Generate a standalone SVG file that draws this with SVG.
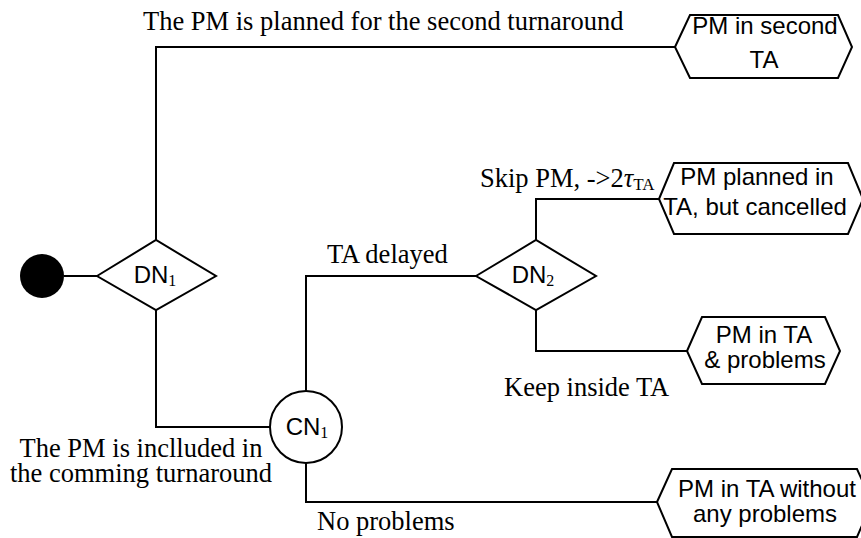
<svg xmlns="http://www.w3.org/2000/svg" width="861" height="538" viewBox="0 0 861 538">
<style>
.shape{fill:#fff;stroke:#000;stroke-width:2}
.conn{fill:none;stroke:#000;stroke-width:2}
.lbl{font-family:"Liberation Serif","Times New Roman",serif;font-size:26.5px;fill:#000}
.nt{font-family:"Liberation Sans",Arial,sans-serif;font-size:24px;fill:#000;text-anchor:middle}
.sub{font-family:"Liberation Serif","Times New Roman",serif;font-size:16px}
</style>
<rect width="861" height="538" fill="#fff"/>
<g id="connectors">
<path class="conn" d="M64,276 H97"/>
<path class="conn" d="M156,240 V47 H675"/>
<path class="conn" d="M156,310 V427 H270"/>
<path class="conn" d="M306,391 V276 H476"/>
<path class="conn" d="M536,240 V199 H659"/>
<path class="conn" d="M536,310 V351 H687"/>
<path class="conn" d="M306,463 V502 H657"/>
</g>
<g id="labels">
<text class="lbl" x="143" y="30">The PM is planned for the second turnaround</text>
<text class="lbl" x="327" y="263">TA delayed</text>
<text class="lbl" x="480" y="187">Skip PM, -&gt;2<tspan font-style="italic">τ</tspan><tspan font-size="17" dy="3">TA</tspan></text>
<text class="lbl" x="504" y="396">Keep inside TA</text>
<text class="lbl" x="141" y="457" text-anchor="middle">The PM is inclluded in</text>
<text class="lbl" x="141" y="482" text-anchor="middle">the comming turnaround</text>
<text class="lbl" x="317" y="530">No problems</text>
</g>
<g id="start"><circle cx="42" cy="276" r="22" fill="#000"/></g>
<g id="DN1">
<polygon class="shape" points="97,276 156,240 216,276 156,310"/>
<text class="nt" x="155" y="283">DN<tspan class="sub" dy="3">1</tspan></text>
</g>
<g id="CN1">
<circle class="shape" cx="306" cy="427" r="36"/>
<text class="nt" x="307" y="435">CN<tspan class="sub" dy="3">1</tspan></text>
</g>
<g id="DN2">
<polygon class="shape" points="476,276 536,240 596,276 536,310"/>
<text class="nt" x="533" y="283">DN<tspan class="sub" dy="3">2</tspan></text>
</g>
<g id="T1">
<polygon class="shape" points="675,47 690,15 838,15 852,47 838,78 690,78"/>
<text class="nt" x="765" y="34">PM in second</text>
<text class="nt" x="764" y="68">TA</text>
</g>
<g id="T2">
<polygon class="shape" points="659,199 674,163 848,163 863,199 848,234 674,234"/>
<text class="nt" x="757" y="185">PM planned in</text>
<text class="nt" x="755" y="215">TA, but cancelled</text>
</g>
<g id="T3">
<polygon class="shape" points="687,351 702,317 825,317 840,351 825,384 702,384"/>
<text class="nt" x="764" y="343">PM in TA</text>
<text class="nt" x="765" y="368">&amp; problems</text>
</g>
<g id="T4">
<polygon class="shape" points="657,502 672,469 857,469 872,502 857,537 672,537"/>
<text class="nt" x="767" y="497">PM in TA without</text>
<text class="nt" x="765" y="522">any problems</text>
</g>
</svg>
